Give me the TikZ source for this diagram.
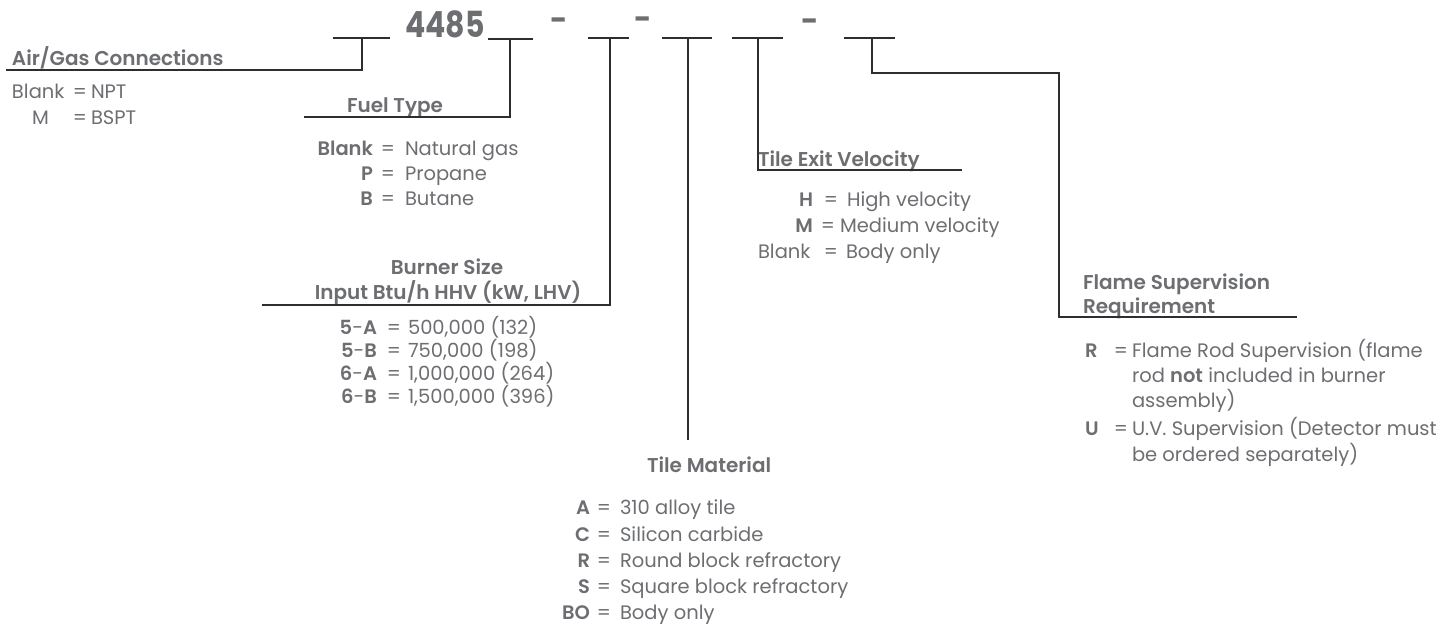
\documentclass[tikz,border=0pt]{standalone}
\usepackage{fontspec}
\setmainfont{Poppins}[BoldFont={Poppins SemiBold}]
\newfontfamily\codefont{Poppins Bold}
\definecolor{txt}{HTML}{6D6E71}
\definecolor{ln}{HTML}{2E2E2E}
\newcommand\optrow[8]{%
  \node[anchor=base #4] (#1l) at (#3,#2) {#7};
  \node[anchor=base] (#1e) at (#5,#2) {=};
  \node[anchor=base west] (#1v) at (#6,#2) {#8};}
\begin{document}
\begin{tikzpicture}[x=1pt,y=-1pt,
  every node/.style={inner sep=0pt, outer sep=0pt, text=txt, font=\fontsize{19.5}{22}\selectfont},
  hd/.style={font=\fontsize{20}{23}\selectfont\bfseries},
  big/.style={font=\fontsize{30}{34}\selectfont\codefont},
  lnk/.style={draw=ln, line width=1.2pt}]
\useasboundingbox (0,0) rectangle (1456,629);
% ---- header ----
\node[big, anchor=base west] (code) at (405,37) {\scalebox{1}[1.2]{4485}};
\node[big, anchor=center] (d1) at (559,24) {-};
\node[big, anchor=center] (d2) at (643,23) {-};
\node[big, anchor=center] (d3) at (810,25) {-};
\coordinate (a1) at (333,38); \coordinate (a2) at (390,38); \coordinate (am) at (362,38);
\coordinate (b1) at (488,39); \coordinate (b2) at (533,39); \coordinate (bm) at (510,39);
\coordinate (c1) at (588,38); \coordinate (c2) at (629,38); \coordinate (cm) at (610,38);
\coordinate (e1) at (662,38); \coordinate (e2) at (712,38); \coordinate (em) at (688,38);
\coordinate (f1) at (732,38); \coordinate (f2) at (783,38); \coordinate (fm) at (758,38);
\coordinate (g1) at (844,38); \coordinate (g2) at (895,38); \coordinate (gm) at (872,38);
\draw[lnk] (a1) -- (a2); \draw[lnk] (b1) -- (b2); \draw[lnk] (c1) -- (c2);
\draw[lnk] (e1) -- (e2); \draw[lnk] (f1) -- (f2); \draw[lnk] (g1) -- (g2);
% ---- Air/Gas ----
\node[hd, anchor=base west] (air) at (12,65) {Air/Gas Connections};
\coordinate (airL) at (6,70);
\draw[lnk] (am) |- (airL);
\optrow{ab}{98}{12}{west}{80}{91}{Blank}{NPT}
\optrow{am}{124}{32}{west}{80}{91}{M}{BSPT}
% ---- Fuel ----
\node[hd, anchor=base west] (fuel) at (347,112) {Fuel Type};
\coordinate (fuelL) at (304,117);
\draw[lnk] (bm) |- (fuelL);
\optrow{fb}{155}{373}{east}{388}{405}{\textbf{Blank}}{Natural gas}
\optrow{fp}{180}{373}{east}{388}{405}{\textbf{P}}{Propane}
\optrow{fu}{205}{373}{east}{388}{405}{\textbf{B}}{Butane}
% ---- Burner size ----
\node[hd, anchor=base] (bs1) at (447,274) {Burner Size};
\node[hd, anchor=base] (bs2) at (448,299) {Input Btu/h HHV (kW, LHV)};
\coordinate (bsL) at (262,305);
\draw[lnk] (cm) |- (bsL);
\optrow{s1}{334}{377}{east}{394}{408}{\textbf{5}-\textbf{A}}{500,000 (132)}
\optrow{s2}{357}{377}{east}{394}{408}{\textbf{5}-\textbf{B}}{750,000 (198)}
\optrow{s3}{380}{377}{east}{394}{408}{\textbf{6}-\textbf{A}}{1,000,000 (264)}
\optrow{s4}{403}{377}{east}{394}{408}{\textbf{6}-\textbf{B}}{1,500,000 (396)}
% ---- Tile material ----
\node[hd, anchor=base west] (tm) at (647,472) {Tile Material};
\coordinate (tmT) at (688,440);
\draw[lnk] (em) -- (tmT);
\optrow{t1}{514}{590}{east}{604}{620}{\textbf{A}}{310 alloy tile}
\optrow{t2}{541}{590}{east}{604}{620}{\textbf{C}}{Silicon carbide}
\optrow{t3}{567}{590}{east}{604}{620}{\textbf{R}}{Round block refractory}
\optrow{t4}{593}{590}{east}{604}{620}{\textbf{S}}{Square block refractory}
\optrow{t5}{619}{590}{east}{604}{620}{\textbf{BO}}{Body only}
% ---- Tile exit velocity ----
\node[hd, anchor=base west] (tev) at (758,166) {Tile Exit Velocity};
\coordinate (tevR) at (962,170);
\draw[lnk] (fm) |- (tevR);
\optrow{v1}{206}{813}{east}{831}{847}{\textbf{H}}{High velocity}
\optrow{v2}{232}{813}{east}{828}{840}{\textbf{M}}{Medium velocity}
\optrow{v3}{258}{758}{west}{831}{846}{Blank}{Body only}
% ---- Flame supervision ----
\node[hd, anchor=base west] (fs1) at (1083,289) {Flame Supervision};
\node[hd, anchor=base west] (fs2) at (1083,313) {Requirement};
\coordinate (fsK) at (1059,73);
\coordinate (fsR) at (1297,317);
\draw[lnk] (gm) |- (fsK) |- (fsR);
\optrow{r1}{357}{1085}{west}{1121}{1132}{\textbf{R}}{Flame Rod Supervision (flame}
\node[anchor=base west] (r1b) at (1132,382) {rod \textbf{not} included in burner};
\node[anchor=base west] (r1c) at (1132,407) {assembly)};
\optrow{u1}{435}{1085}{west}{1121}{1132}{\textbf{U}}{U.V. Supervision (Detector must}
\node[anchor=base west] (u1b) at (1132,461) {be ordered separately)};
\end{tikzpicture}
\end{document}
